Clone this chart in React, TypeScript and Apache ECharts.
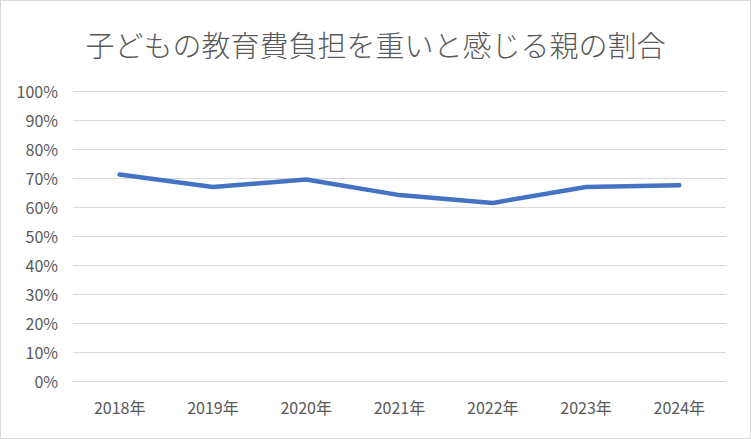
import React, { useEffect, useRef } from "react";
import * as echarts from "echarts";

const categories = ["2018年", "2019年", "2020年", "2021年", "2022年", "2023年", "2024年"];
const values = [71.2, 66.9, 69.5, 64.1, 61.4, 66.9, 67.5];
const titleText = "子どもの教育費負担を重いと感じる親の割合";

export default function App() {
  const ref = useRef<HTMLDivElement>(null);
  useEffect(() => {
    if (!ref.current) return;
    const chart = echarts.init(ref.current, null, { renderer: "svg" });
    const font = "'Noto Sans CJK JP', 'Noto Sans', sans-serif";
    chart.setOption({
      animation: false,
      backgroundColor: "#ffffff",
      title: {
        text: titleText,
        left: "center",
        top: 23,
        textStyle: { fontFamily: font, fontSize: 29, fontWeight: 300, color: "#595959" },
      },
      grid: { left: 72, right: 24, top: 90, bottom: 57, containLabel: false },
      xAxis: {
        type: "category",
        data: categories,
        boundaryGap: true,
        axisLine: { lineStyle: { color: "#d9d9d9", width: 1 } },
        axisTick: { show: false },
        axisLabel: { color: "#595959", fontSize: 16, fontFamily: font, margin: 18 },
      },
      yAxis: {
        type: "value",
        min: 0,
        max: 100,
        interval: 10,
        axisLine: { show: false },
        axisTick: { show: false },
        splitLine: { lineStyle: { color: "#d9d9d9", width: 1 } },
        axisLabel: { color: "#595959", fontSize: 16, fontFamily: font, margin: 15, formatter: "{value}%" },
      },
      series: [
        {
          type: "line",
          data: values,
          symbol: "none",
          lineStyle: { color: "#4472C4", width: 4.5, cap: "round", join: "round" },
        },
      ],
    });
    return () => chart.dispose();
  }, []);
  return (
    <div
      style={{
        position: "absolute",
        left: 0,
        top: 0,
        width: 751,
        height: 439,
        boxSizing: "border-box",
        border: "1px solid #d9d9d9",
        background: "#fff",
      }}
    >
      <div ref={ref} style={{ width: 749, height: 437 }} />
    </div>
  );
}
